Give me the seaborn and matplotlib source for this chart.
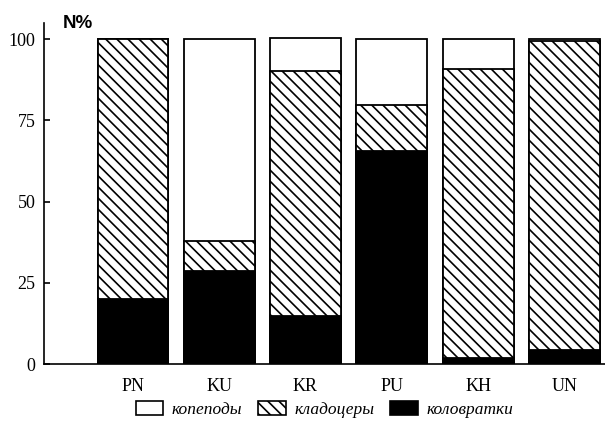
import matplotlib
matplotlib.use('Agg')
import matplotlib.pyplot as plt
from matplotlib.patches import Patch
import seaborn as sns
import pandas as pd
import numpy as np

# Data (percent of total abundance)
categories = ['PN', 'KU', 'KR', 'PU', 'KH', 'UN']
kolovratki = [20.0, 28.7, 14.8, 65.5, 2.0, 4.3]    # black, bottom
kladotsery = [80.0, 9.2, 75.4, 14.2, 88.7, 95.3]   # hatched, middle
kopepody = [0.0, 62.1, 10.2, 20.3, 9.3, 0.4]       # white, top
y_ticks = [0, 25, 50, 75, 100]

df = pd.DataFrame({
    'site': categories,
    'kolovratki': kolovratki,
    'kladotsery': kladotsery,
    'kopepody': kopepody,
})
df['level_black'] = df['kolovratki']
df['level_hatch'] = df['kolovratki'] + df['kladotsery']
df['level_total'] = df['level_hatch'] + df['kopepody']

sns.set_style('white')
plt.rcParams['font.family'] = ['Liberation Serif', 'DejaVu Serif']
plt.rcParams['hatch.linewidth'] = 1.2
plt.rcParams['hatch.color'] = 'black'
for key in ['text.color', 'axes.labelcolor', 'xtick.color', 'ytick.color']:
    plt.rcParams[key] = 'black'

HATCH = '\\' * 3

fig = plt.figure(figsize=(6.05, 4.23), dpi=100)
ax = fig.add_axes([44 / 605, 59 / 423, 561 / 605, 341 / 423])

# layered bars: total (white), then cumulative hatched, then black
layers = [('level_total', 'white', None),
          ('level_hatch', 'white', HATCH),
          ('level_black', 'black', None)]
for col, color, hatch in layers:
    n_before = len(ax.patches)
    sns.barplot(data=df, x='site', y=col, order=categories, color=color,
                width=0.82, edgecolor='black', linewidth=1.3,
                saturation=1, ax=ax, errorbar=None)
    for p in ax.patches[n_before:]:
        p.set_facecolor(color)
        p.set_edgecolor('black')
        if hatch:
            p.set_hatch(hatch)

ax.set_xlim(-1.03, 5.47)
ax.set_ylim(0, 105)
ax.set_yticks(y_ticks)
ax.set_xlabel('')
ax.set_ylabel('')

for side in ['top', 'right']:
    ax.spines[side].set_visible(False)
for side in ['left', 'bottom']:
    ax.spines[side].set_color('black')
    ax.spines[side].set_linewidth(1.2)

ax.tick_params(axis='y', direction='in', length=4, width=1.2, labelsize=13,
               pad=6, left=True, colors='black')
ax.tick_params(axis='x', length=0, labelsize=13, pad=10, colors='black')

fig.text(63 / 605, 1 - 28 / 423, 'N%', fontsize=13.5, fontweight='bold',
         family=['Liberation Sans', 'DejaVu Sans'], va='baseline', ha='left',
         color='black')

handles = [Patch(facecolor='white', edgecolor='black', linewidth=1.2),
           Patch(facecolor='white', edgecolor='black', linewidth=1.2, hatch=HATCH),
           Patch(facecolor='black', edgecolor='black', linewidth=1.2)]
labels = ['копеподы', 'кладоцеры', 'коловратки']
fig.legend(handles, labels, loc='center', bbox_to_anchor=(324.5 / 605, 0.032),
           ncol=3, frameon=False, prop={'style': 'italic', 'size': 12.5},
           handlelength=1.6, handleheight=0.9, handletextpad=0.5,
           columnspacing=0.9)

fig.savefig('out.png', dpi=100)
